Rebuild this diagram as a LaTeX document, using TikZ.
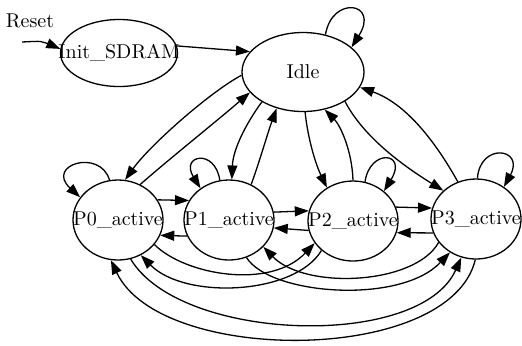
\documentclass[tikz,border=0pt]{standalone}
\usetikzlibrary{shapes.geometric,arrows.meta}
% zero-width text box so the ellipse keeps its given size
\newcommand\statelabel[1]{\makebox[0pt]{#1}}
\begin{document}
\begin{tikzpicture}[x=0.5pt,y=-0.5pt,
  state/.style={draw,ellipse,inner sep=0pt,line width=0.65pt,
    font=\fontsize{10}{12}\selectfont},
  pstate/.style={state,minimum width=45pt,minimum height=40pt},
  edge/.style={line width=0.65pt,-{Triangle[length=7pt,width=5pt]}}]
\useasboundingbox (0,0) rectangle (522,345);

% states
\node[state,minimum width=58.5pt,minimum height=33.5pt] (init) at (119,53) {\statelabel{Init\_SDRAM}};
\node[state,minimum width=61pt,minimum height=39.5pt] (idle) at (303,72) {\statelabel{Idle}};
\node[pstate] (p0) at (118,220) {\statelabel{P0\_active}};
\node[pstate] (p1) at (229,220) {\statelabel{P1\_active}};
\node[pstate] (p2) at (353,221) {\statelabel{P2\_active}};
\node[pstate] (p3) at (476,219) {\statelabel{P3\_active}};

% reset entry
\node[font=\fontsize{10}{12}\selectfont] (reset) at (30,21) {Reset};
\coordinate (rs) at (22,42);
\draw[edge] (rs) .. controls (42,41) .. (init.176);

% init and idle
\draw[edge] (init.7) -- (idle.159);
\draw[edge] (idle.59) .. controls (332,-5) and (380,2) .. (idle.27);

% idle <-> P states
\draw[edge] (idle.183) .. controls (210,92) and (150,145) .. (p0.80);
\draw[edge] (p0.58) .. controls (168,160) and (218,120) .. (idle.201);
\draw[edge] (idle.216) .. controls (245,125) and (233,150) .. (p1.86);
\draw[edge] (p1.58) .. controls (260,160) and (268,132) .. (idle.234);
\draw[edge] (idle.273) .. controls (308,140) and (316,165) .. (p2.128);
\draw[edge] (p2.90) .. controls (352,150) and (340,125) .. (idle.300);
\draw[edge] (idle.325) .. controls (365,140) and (410,170) .. (p3.139);
\draw[edge] (p3.116) .. controls (440,150) and (410,105) .. (idle.345);

% self loops
\draw[edge] (p0.102) .. controls (100,148) and (45,165) .. (p0.149);
\draw[edge] (p1.103) .. controls (215,148) and (180,155) .. (p1.132);
\draw[edge] (p2.73) .. controls (370,148) and (408,152) .. (p2.44);
\draw[edge] (p3.88) .. controls (480,142) and (525,148) .. (p3.49);

% neighbouring states
\draw[edge] (p0.27) -- (p1.154);
\draw[edge] (p1.201) -- (p0.340);
\draw[edge] (p1.10) -- (p2.167);
\draw[edge] (p2.192) -- (p1.350);
\draw[edge] (p2.18) -- (p3.166);
\draw[edge] (p3.198) -- (p2.345);

% arcs underneath
\draw[edge] (p0.326) .. controls (185,275) and (270,290) .. (p2.210);
\draw[edge] (p2.223) .. controls (295,295) and (185,300) .. (p0.303);
\draw[edge] (p3.212) .. controls (415,285) and (305,290) .. (p1.322);
\draw[edge] (p1.295) .. controls (270,295) and (400,305) .. (p3.232);
\draw[edge] (p0.288) .. controls (180,342) and (420,350) .. (p3.249);
\draw[edge] (p3.269) .. controls (450,365) and (160,365) .. (p0.260);
\end{tikzpicture}
\end{document}
